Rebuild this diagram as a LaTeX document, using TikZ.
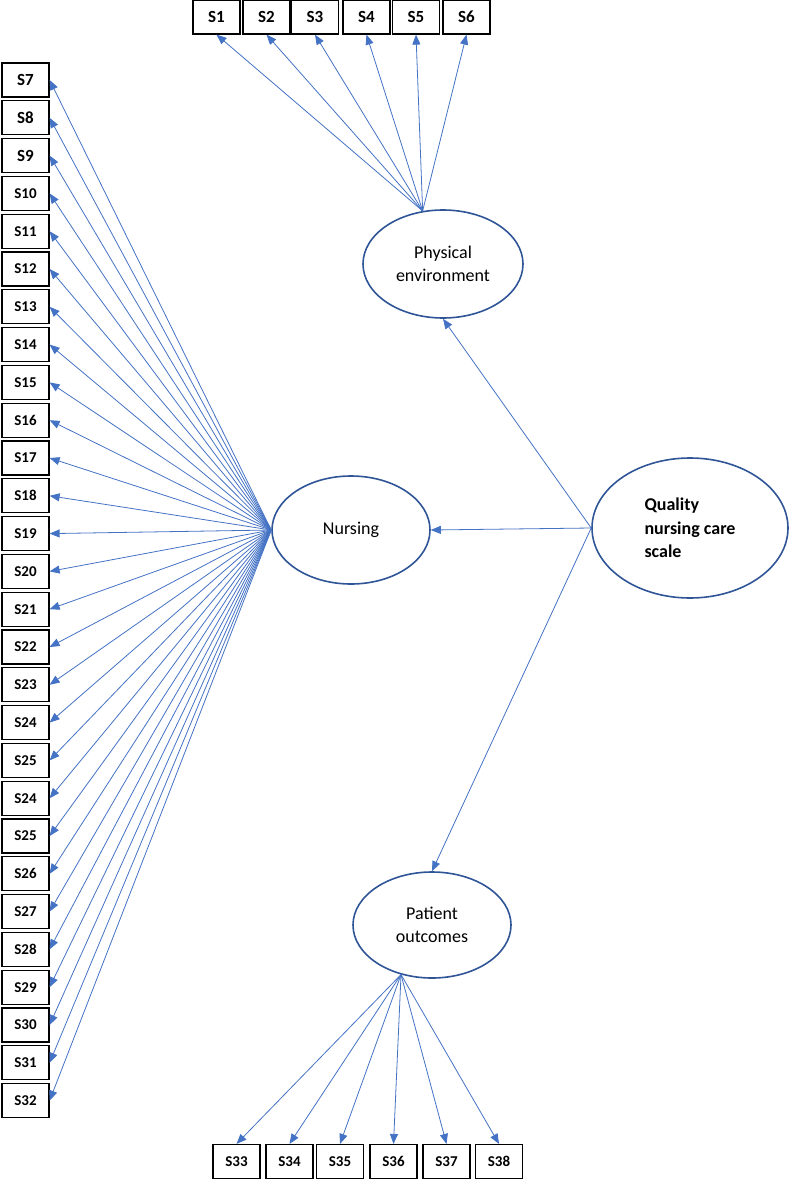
\documentclass[tikz,border=0pt]{standalone}
\usepackage{xcolor}
\usepackage{fontspec}
\setmainfont{Carlito}
\usepackage{tikz}
\usetikzlibrary{arrows.meta, shapes.geometric}

\definecolor{linkblue}{HTML}{4472C4}
\definecolor{ovalblue}{HTML}{2F5597}

\begin{document}
\begin{tikzpicture}[x=1pt, y=-1pt,
        item/.style={rectangle, draw, line width=1.2pt, minimum width=47pt, minimum height=34pt, inner sep=0pt, font=\fontsize{15}{18}\selectfont\bfseries},
        bigitem/.style={item, font=\fontsize{17}{20}\selectfont\bfseries},
        factor/.style={ellipse, draw=ovalblue, line width=1.6pt, inner sep=0pt, align=center, font=\fontsize{18}{23}\selectfont},
        load/.style={-{Triangle[length=10pt, width=8pt]}, color=linkblue, line width=0.8pt}]
        \useasboundingbox (0, 0) rectangle (788, 1180);

        % latent factors
        \node[factor, minimum width=160pt, minimum height=108pt] at (443, 264) (phys) {Physical\\environment};
        \node[factor, minimum width=158pt, minimum height=108pt] at (351, 530) (nurs) {Nursing};
        \node[factor, minimum width=196pt, minimum height=140pt, align=left, font=\fontsize{18}{23.5}\selectfont\bfseries] at (690, 528) (qncs) {Quality\\nursing care\\scale};
        \node[factor, minimum width=158pt, minimum height=106pt] at (432, 925) (pato) {Patient\\outcomes};

        \draw (qncs.west) edge[load] (phys.south);
        \draw (qncs.west) edge[load] (nurs.east);
        \draw (qncs.west) edge[load] (pato.north);

        % physical environment items
        \node[bigitem] at (216.5, 17) (s1) {S1};
        \node[bigitem] at (266.5, 17) (s2) {S2};
        \node[bigitem] at (315, 17) (s3) {S3};
        \node[bigitem] at (366.5, 17) (s4) {S4};
        \node[bigitem] at (416, 17) (s5) {S5};
        \node[bigitem] at (466.5, 17) (s6) {S6};

        \draw (phys.111) edge[load] (s1.south);
        \draw (phys.111) edge[load] (s2.south);
        \draw (phys.111) edge[load] (s3.south);
        \draw (phys.111) edge[load] (s4.south);
        \draw (phys.111) edge[load] (s5.south);
        \draw (phys.111) edge[load] (s6.south);

        % nursing items
        \node[bigitem] at (25.5, 80) (s7) {S7};
        \node[bigitem] at (25.5, 117.8) (s8) {S8};
        \node[bigitem] at (25.5, 155.6) (s9) {S9};
        \node[item] at (25.5, 193.4) (s10) {S10};
        \node[item] at (25.5, 231.2) (s11) {S11};
        \node[item] at (25.5, 269) (s12) {S12};
        \node[item] at (25.5, 306.8) (s13) {S13};
        \node[item] at (25.5, 344.6) (s14) {S14};
        \node[item] at (25.5, 382.4) (s15) {S15};
        \node[item] at (25.5, 420.2) (s16) {S16};
        \node[item] at (25.5, 458) (s17) {S17};
        \node[item] at (25.5, 495.8) (s18) {S18};
        \node[item] at (25.5, 533.6) (s19) {S19};
        \node[item] at (25.5, 571.4) (s20) {S20};
        \node[item] at (25.5, 609.2) (s21) {S21};
        \node[item] at (25.5, 647) (s22) {S22};
        \node[item] at (25.5, 684.8) (s23) {S23};
        \node[item] at (25.5, 722.6) (s24) {S24};
        \node[item] at (25.5, 760.4) (s25) {S25};
        \node[item] at (25.5, 798.2) (s24b) {S24};
        \node[item] at (25.5, 836) (s25b) {S25};
        \node[item] at (25.5, 873.8) (s26) {S26};
        \node[item] at (25.5, 911.6) (s27) {S27};
        \node[item] at (25.5, 949.4) (s28) {S28};
        \node[item] at (25.5, 987.2) (s29) {S29};
        \node[item] at (25.5, 1025) (s30) {S30};
        \node[item] at (25.5, 1062.8) (s31) {S31};
        \node[item] at (25.5, 1100.6) (s32) {S32};

        \draw (nurs.west) edge[load] (s7.east);
        \draw (nurs.west) edge[load] (s8.east);
        \draw (nurs.west) edge[load] (s9.east);
        \draw (nurs.west) edge[load] (s10.east);
        \draw (nurs.west) edge[load] (s11.east);
        \draw (nurs.west) edge[load] (s12.east);
        \draw (nurs.west) edge[load] (s13.east);
        \draw (nurs.west) edge[load] (s14.east);
        \draw (nurs.west) edge[load] (s15.east);
        \draw (nurs.west) edge[load] (s16.east);
        \draw (nurs.west) edge[load] (s17.east);
        \draw (nurs.west) edge[load] (s18.east);
        \draw (nurs.west) edge[load] (s19.east);
        \draw (nurs.west) edge[load] (s20.east);
        \draw (nurs.west) edge[load] (s21.east);
        \draw (nurs.west) edge[load] (s22.east);
        \draw (nurs.west) edge[load] (s23.east);
        \draw (nurs.west) edge[load] (s24.east);
        \draw (nurs.west) edge[load] (s25.east);
        \draw (nurs.west) edge[load] (s24b.east);
        \draw (nurs.west) edge[load] (s25b.east);
        \draw (nurs.west) edge[load] (s26.east);
        \draw (nurs.west) edge[load] (s27.east);
        \draw (nurs.west) edge[load] (s28.east);
        \draw (nurs.west) edge[load] (s29.east);
        \draw (nurs.west) edge[load] (s30.east);
        \draw (nurs.west) edge[load] (s31.east);
        \draw (nurs.west) edge[load] (s32.east);

        % patient outcome items
        \node[item] at (236.5, 1161.5) (s33) {S33};
        \node[item] at (289.5, 1161.5) (s34) {S34};
        \node[item] at (340, 1161.5) (s35) {S35};
        \node[item] at (393.5, 1161.5) (s36) {S36};
        \node[item] at (446.5, 1161.5) (s37) {S37};
        \node[item] at (499, 1161.5) (s38) {S38};

        \draw (pato.238) edge[load] (s33.north);
        \draw (pato.238) edge[load] (s34.north);
        \draw (pato.238) edge[load] (s35.north);
        \draw (pato.238) edge[load] (s36.north);
        \draw (pato.238) edge[load] (s37.north);
        \draw (pato.238) edge[load] (s38.north);
\end{tikzpicture}
\end{document}
